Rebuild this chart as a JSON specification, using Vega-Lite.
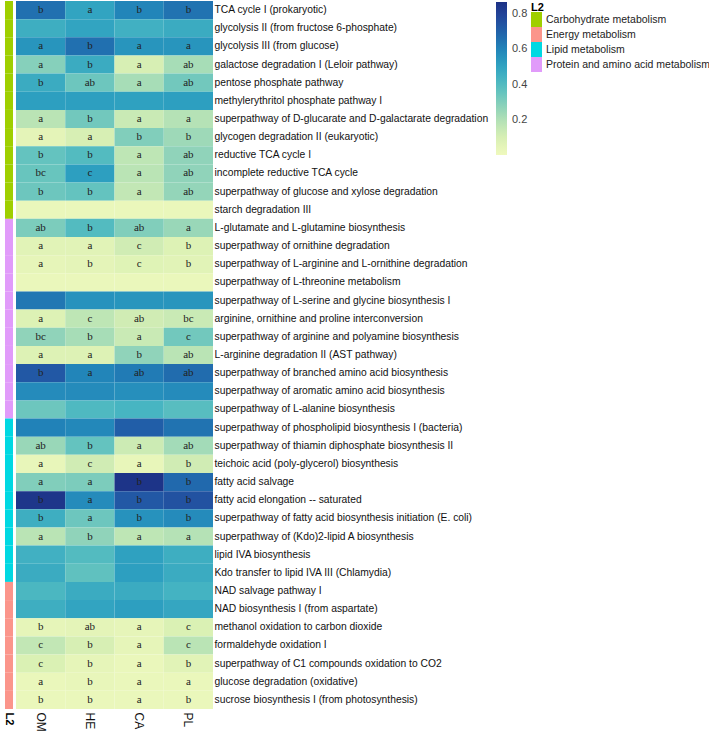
{
  "$schema": "https://vega.github.io/schema/vega-lite/v6.json",
  "padding": {"left": 3, "top": 1, "right": 0, "bottom": 0},
  "background": "white",
  "bounds": "flush",
  "spacing": 3,
  "config": {"view": {"stroke": null}, "font": "Liberation Sans"},
  "datasets": {
    "rows": [
      {"p": "TCA cycle I (prokaryotic)", "L2": "Carbohydrate metabolism"},
      {"p": "glycolysis II (from fructose 6-phosphate)", "L2": "Carbohydrate metabolism"},
      {"p": "glycolysis III (from glucose)", "L2": "Carbohydrate metabolism"},
      {"p": "galactose degradation I (Leloir pathway)", "L2": "Carbohydrate metabolism"},
      {"p": "pentose phosphate pathway", "L2": "Carbohydrate metabolism"},
      {"p": "methylerythritol phosphate pathway I", "L2": "Carbohydrate metabolism"},
      {"p": "superpathway of D-glucarate and D-galactarate degradation", "L2": "Carbohydrate metabolism"},
      {"p": "glycogen degradation II (eukaryotic)", "L2": "Carbohydrate metabolism"},
      {"p": "reductive TCA cycle I", "L2": "Carbohydrate metabolism"},
      {"p": "incomplete reductive TCA cycle", "L2": "Carbohydrate metabolism"},
      {"p": "superpathway of glucose and xylose degradation", "L2": "Carbohydrate metabolism"},
      {"p": "starch degradation III", "L2": "Carbohydrate metabolism"},
      {"p": "L-glutamate and L-glutamine biosynthesis", "L2": "Protein and amino acid metabolism"},
      {"p": "superpathway of ornithine degradation", "L2": "Protein and amino acid metabolism"},
      {"p": "superpathway of L-arginine and L-ornithine degradation", "L2": "Protein and amino acid metabolism"},
      {"p": "superpathway of L-threonine metabolism", "L2": "Protein and amino acid metabolism"},
      {"p": "superpathway of L-serine and glycine biosynthesis I", "L2": "Protein and amino acid metabolism"},
      {"p": "arginine, ornithine and proline interconversion", "L2": "Protein and amino acid metabolism"},
      {"p": "superpathway of arginine and polyamine biosynthesis", "L2": "Protein and amino acid metabolism"},
      {"p": "L-arginine degradation II (AST pathway)", "L2": "Protein and amino acid metabolism"},
      {"p": "superpathway of branched amino acid biosynthesis", "L2": "Protein and amino acid metabolism"},
      {"p": "superpathway of aromatic amino acid biosynthesis", "L2": "Protein and amino acid metabolism"},
      {"p": "superpathway of L-alanine biosynthesis", "L2": "Protein and amino acid metabolism"},
      {"p": "superpathway of phospholipid biosynthesis I (bacteria)", "L2": "Lipid metabolism"},
      {"p": "superpathway of thiamin diphosphate biosynthesis II", "L2": "Lipid metabolism"},
      {"p": "teichoic acid (poly-glycerol) biosynthesis", "L2": "Lipid metabolism"},
      {"p": "fatty acid salvage", "L2": "Lipid metabolism"},
      {"p": "fatty acid elongation -- saturated", "L2": "Lipid metabolism"},
      {"p": "superpathway of fatty acid biosynthesis initiation (E. coli)", "L2": "Lipid metabolism"},
      {"p": "superpathway of (Kdo)2-lipid A biosynthesis", "L2": "Lipid metabolism"},
      {"p": "lipid IVA biosynthesis", "L2": "Lipid metabolism"},
      {"p": "Kdo transfer to lipid IVA III (Chlamydia)", "L2": "Lipid metabolism"},
      {"p": "NAD salvage pathway I", "L2": "Energy metabolism"},
      {"p": "NAD biosynthesis I (from aspartate)", "L2": "Energy metabolism"},
      {"p": "methanol oxidation to carbon dioxide", "L2": "Energy metabolism"},
      {"p": "formaldehyde oxidation I", "L2": "Energy metabolism"},
      {"p": "superpathway of C1 compounds oxidation to CO2", "L2": "Energy metabolism"},
      {"p": "glucose degradation (oxidative)", "L2": "Energy metabolism"},
      {"p": "sucrose biosynthesis I (from photosynthesis)", "L2": "Energy metabolism"}
    ],
    "cells": [
      {"p": "TCA cycle I (prokaryotic)", "g": "OM", "v": 0.66, "t": "b"},
      {"p": "TCA cycle I (prokaryotic)", "g": "HE", "v": 0.50, "t": "a"},
      {"p": "TCA cycle I (prokaryotic)", "g": "CA", "v": 0.60, "t": "b"},
      {"p": "TCA cycle I (prokaryotic)", "g": "PL", "v": 0.65, "t": "b"},
      {"p": "glycolysis II (from fructose 6-phosphate)", "g": "OM", "v": 0.46, "t": ""},
      {"p": "glycolysis II (from fructose 6-phosphate)", "g": "HE", "v": 0.50, "t": ""},
      {"p": "glycolysis II (from fructose 6-phosphate)", "g": "CA", "v": 0.45, "t": ""},
      {"p": "glycolysis II (from fructose 6-phosphate)", "g": "PL", "v": 0.47, "t": ""},
      {"p": "glycolysis III (from glucose)", "g": "OM", "v": 0.55, "t": "a"},
      {"p": "glycolysis III (from glucose)", "g": "HE", "v": 0.66, "t": "b"},
      {"p": "glycolysis III (from glucose)", "g": "CA", "v": 0.55, "t": "a"},
      {"p": "glycolysis III (from glucose)", "g": "PL", "v": 0.55, "t": "a"},
      {"p": "galactose degradation I (Leloir pathway)", "g": "OM", "v": 0.29, "t": "a"},
      {"p": "galactose degradation I (Leloir pathway)", "g": "HE", "v": 0.47, "t": "b"},
      {"p": "galactose degradation I (Leloir pathway)", "g": "CA", "v": 0.10, "t": "a"},
      {"p": "galactose degradation I (Leloir pathway)", "g": "PL", "v": 0.22, "t": "ab"},
      {"p": "pentose phosphate pathway", "g": "OM", "v": 0.47, "t": "b"},
      {"p": "pentose phosphate pathway", "g": "HE", "v": 0.34, "t": "ab"},
      {"p": "pentose phosphate pathway", "g": "CA", "v": 0.22, "t": "a"},
      {"p": "pentose phosphate pathway", "g": "PL", "v": 0.33, "t": "ab"},
      {"p": "methylerythritol phosphate pathway I", "g": "OM", "v": 0.52, "t": ""},
      {"p": "methylerythritol phosphate pathway I", "g": "HE", "v": 0.52, "t": ""},
      {"p": "methylerythritol phosphate pathway I", "g": "CA", "v": 0.51, "t": ""},
      {"p": "methylerythritol phosphate pathway I", "g": "PL", "v": 0.52, "t": ""},
      {"p": "superpathway of D-glucarate and D-galactarate degradation", "g": "OM", "v": 0.18, "t": "a"},
      {"p": "superpathway of D-glucarate and D-galactarate degradation", "g": "HE", "v": 0.33, "t": "b"},
      {"p": "superpathway of D-glucarate and D-galactarate degradation", "g": "CA", "v": 0.14, "t": "a"},
      {"p": "superpathway of D-glucarate and D-galactarate degradation", "g": "PL", "v": 0.19, "t": "a"},
      {"p": "glycogen degradation II (eukaryotic)", "g": "OM", "v": 0.05, "t": "a"},
      {"p": "glycogen degradation II (eukaryotic)", "g": "HE", "v": 0.10, "t": "a"},
      {"p": "glycogen degradation II (eukaryotic)", "g": "CA", "v": 0.30, "t": "b"},
      {"p": "glycogen degradation II (eukaryotic)", "g": "PL", "v": 0.24, "t": "b"},
      {"p": "reductive TCA cycle I", "g": "OM", "v": 0.36, "t": "b"},
      {"p": "reductive TCA cycle I", "g": "HE", "v": 0.40, "t": "b"},
      {"p": "reductive TCA cycle I", "g": "CA", "v": 0.17, "t": "a"},
      {"p": "reductive TCA cycle I", "g": "PL", "v": 0.27, "t": "ab"},
      {"p": "incomplete reductive TCA cycle", "g": "OM", "v": 0.35, "t": "bc"},
      {"p": "incomplete reductive TCA cycle", "g": "HE", "v": 0.52, "t": "c"},
      {"p": "incomplete reductive TCA cycle", "g": "CA", "v": 0.18, "t": "a"},
      {"p": "incomplete reductive TCA cycle", "g": "PL", "v": 0.27, "t": "ab"},
      {"p": "superpathway of glucose and xylose degradation", "g": "OM", "v": 0.34, "t": "b"},
      {"p": "superpathway of glucose and xylose degradation", "g": "HE", "v": 0.36, "t": "b"},
      {"p": "superpathway of glucose and xylose degradation", "g": "CA", "v": 0.16, "t": "a"},
      {"p": "superpathway of glucose and xylose degradation", "g": "PL", "v": 0.26, "t": "ab"},
      {"p": "starch degradation III", "g": "OM", "v": 0.02, "t": ""},
      {"p": "starch degradation III", "g": "HE", "v": 0.02, "t": ""},
      {"p": "starch degradation III", "g": "CA", "v": 0.02, "t": ""},
      {"p": "starch degradation III", "g": "PL", "v": 0.02, "t": ""},
      {"p": "L-glutamate and L-glutamine biosynthesis", "g": "OM", "v": 0.31, "t": "ab"},
      {"p": "L-glutamate and L-glutamine biosynthesis", "g": "HE", "v": 0.40, "t": "b"},
      {"p": "L-glutamate and L-glutamine biosynthesis", "g": "CA", "v": 0.30, "t": "ab"},
      {"p": "L-glutamate and L-glutamine biosynthesis", "g": "PL", "v": 0.25, "t": "a"},
      {"p": "superpathway of ornithine degradation", "g": "OM", "v": 0.06, "t": "a"},
      {"p": "superpathway of ornithine degradation", "g": "HE", "v": 0.06, "t": "a"},
      {"p": "superpathway of ornithine degradation", "g": "CA", "v": 0.12, "t": "c"},
      {"p": "superpathway of ornithine degradation", "g": "PL", "v": 0.08, "t": "b"},
      {"p": "superpathway of L-arginine and L-ornithine degradation", "g": "OM", "v": 0.04, "t": "a"},
      {"p": "superpathway of L-arginine and L-ornithine degradation", "g": "HE", "v": 0.05, "t": "b"},
      {"p": "superpathway of L-arginine and L-ornithine degradation", "g": "CA", "v": 0.07, "t": "c"},
      {"p": "superpathway of L-arginine and L-ornithine degradation", "g": "PL", "v": 0.06, "t": "b"},
      {"p": "superpathway of L-threonine metabolism", "g": "OM", "v": 0.02, "t": ""},
      {"p": "superpathway of L-threonine metabolism", "g": "HE", "v": 0.02, "t": ""},
      {"p": "superpathway of L-threonine metabolism", "g": "CA", "v": 0.02, "t": ""},
      {"p": "superpathway of L-threonine metabolism", "g": "PL", "v": 0.02, "t": ""},
      {"p": "superpathway of L-serine and glycine biosynthesis I", "g": "OM", "v": 0.64, "t": ""},
      {"p": "superpathway of L-serine and glycine biosynthesis I", "g": "HE", "v": 0.56, "t": ""},
      {"p": "superpathway of L-serine and glycine biosynthesis I", "g": "CA", "v": 0.55, "t": ""},
      {"p": "superpathway of L-serine and glycine biosynthesis I", "g": "PL", "v": 0.55, "t": ""},
      {"p": "arginine, ornithine and proline interconversion", "g": "OM", "v": 0.08, "t": "a"},
      {"p": "arginine, ornithine and proline interconversion", "g": "HE", "v": 0.17, "t": "c"},
      {"p": "arginine, ornithine and proline interconversion", "g": "CA", "v": 0.12, "t": "ab"},
      {"p": "arginine, ornithine and proline interconversion", "g": "PL", "v": 0.14, "t": "bc"},
      {"p": "superpathway of arginine and polyamine biosynthesis", "g": "OM", "v": 0.27, "t": "bc"},
      {"p": "superpathway of arginine and polyamine biosynthesis", "g": "HE", "v": 0.22, "t": "b"},
      {"p": "superpathway of arginine and polyamine biosynthesis", "g": "CA", "v": 0.14, "t": "a"},
      {"p": "superpathway of arginine and polyamine biosynthesis", "g": "PL", "v": 0.33, "t": "c"},
      {"p": "L-arginine degradation II (AST pathway)", "g": "OM", "v": 0.08, "t": "a"},
      {"p": "L-arginine degradation II (AST pathway)", "g": "HE", "v": 0.08, "t": "a"},
      {"p": "L-arginine degradation II (AST pathway)", "g": "CA", "v": 0.27, "t": "b"},
      {"p": "L-arginine degradation II (AST pathway)", "g": "PL", "v": 0.18, "t": "ab"},
      {"p": "superpathway of branched amino acid biosynthesis", "g": "OM", "v": 0.73, "t": "b"},
      {"p": "superpathway of branched amino acid biosynthesis", "g": "HE", "v": 0.60, "t": "a"},
      {"p": "superpathway of branched amino acid biosynthesis", "g": "CA", "v": 0.63, "t": "ab"},
      {"p": "superpathway of branched amino acid biosynthesis", "g": "PL", "v": 0.67, "t": "ab"},
      {"p": "superpathway of aromatic amino acid biosynthesis", "g": "OM", "v": 0.58, "t": ""},
      {"p": "superpathway of aromatic amino acid biosynthesis", "g": "HE", "v": 0.58, "t": ""},
      {"p": "superpathway of aromatic amino acid biosynthesis", "g": "CA", "v": 0.57, "t": ""},
      {"p": "superpathway of aromatic amino acid biosynthesis", "g": "PL", "v": 0.58, "t": ""},
      {"p": "superpathway of L-alanine biosynthesis", "g": "OM", "v": 0.34, "t": ""},
      {"p": "superpathway of L-alanine biosynthesis", "g": "HE", "v": 0.41, "t": ""},
      {"p": "superpathway of L-alanine biosynthesis", "g": "CA", "v": 0.43, "t": ""},
      {"p": "superpathway of L-alanine biosynthesis", "g": "PL", "v": 0.39, "t": ""},
      {"p": "superpathway of phospholipid biosynthesis I (bacteria)", "g": "OM", "v": 0.61, "t": ""},
      {"p": "superpathway of phospholipid biosynthesis I (bacteria)", "g": "HE", "v": 0.59, "t": ""},
      {"p": "superpathway of phospholipid biosynthesis I (bacteria)", "g": "CA", "v": 0.71, "t": ""},
      {"p": "superpathway of phospholipid biosynthesis I (bacteria)", "g": "PL", "v": 0.65, "t": ""},
      {"p": "superpathway of thiamin diphosphate biosynthesis II", "g": "OM", "v": 0.25, "t": "ab"},
      {"p": "superpathway of thiamin diphosphate biosynthesis II", "g": "HE", "v": 0.36, "t": "b"},
      {"p": "superpathway of thiamin diphosphate biosynthesis II", "g": "CA", "v": 0.13, "t": "a"},
      {"p": "superpathway of thiamin diphosphate biosynthesis II", "g": "PL", "v": 0.23, "t": "ab"},
      {"p": "teichoic acid (poly-glycerol) biosynthesis", "g": "OM", "v": 0.03, "t": "a"},
      {"p": "teichoic acid (poly-glycerol) biosynthesis", "g": "HE", "v": 0.12, "t": "c"},
      {"p": "teichoic acid (poly-glycerol) biosynthesis", "g": "CA", "v": 0.03, "t": "a"},
      {"p": "teichoic acid (poly-glycerol) biosynthesis", "g": "PL", "v": 0.12, "t": "b"},
      {"p": "fatty acid salvage", "g": "OM", "v": 0.30, "t": "a"},
      {"p": "fatty acid salvage", "g": "HE", "v": 0.31, "t": "a"},
      {"p": "fatty acid salvage", "g": "CA", "v": 0.86, "t": "b"},
      {"p": "fatty acid salvage", "g": "PL", "v": 0.68, "t": "b"},
      {"p": "fatty acid elongation -- saturated", "g": "OM", "v": 0.85, "t": "b"},
      {"p": "fatty acid elongation -- saturated", "g": "HE", "v": 0.58, "t": "a"},
      {"p": "fatty acid elongation -- saturated", "g": "CA", "v": 0.73, "t": "b"},
      {"p": "fatty acid elongation -- saturated", "g": "PL", "v": 0.75, "t": "b"},
      {"p": "superpathway of fatty acid biosynthesis initiation (E. coli)", "g": "OM", "v": 0.46, "t": "b"},
      {"p": "superpathway of fatty acid biosynthesis initiation (E. coli)", "g": "HE", "v": 0.34, "t": "a"},
      {"p": "superpathway of fatty acid biosynthesis initiation (E. coli)", "g": "CA", "v": 0.56, "t": "b"},
      {"p": "superpathway of fatty acid biosynthesis initiation (E. coli)", "g": "PL", "v": 0.58, "t": "b"},
      {"p": "superpathway of (Kdo)2-lipid A biosynthesis", "g": "OM", "v": 0.18, "t": "a"},
      {"p": "superpathway of (Kdo)2-lipid A biosynthesis", "g": "HE", "v": 0.27, "t": "b"},
      {"p": "superpathway of (Kdo)2-lipid A biosynthesis", "g": "CA", "v": 0.17, "t": "a"},
      {"p": "superpathway of (Kdo)2-lipid A biosynthesis", "g": "PL", "v": 0.19, "t": "a"},
      {"p": "lipid IVA biosynthesis", "g": "OM", "v": 0.45, "t": ""},
      {"p": "lipid IVA biosynthesis", "g": "HE", "v": 0.40, "t": ""},
      {"p": "lipid IVA biosynthesis", "g": "CA", "v": 0.51, "t": ""},
      {"p": "lipid IVA biosynthesis", "g": "PL", "v": 0.46, "t": ""},
      {"p": "Kdo transfer to lipid IVA III (Chlamydia)", "g": "OM", "v": 0.47, "t": ""},
      {"p": "Kdo transfer to lipid IVA III (Chlamydia)", "g": "HE", "v": 0.37, "t": ""},
      {"p": "Kdo transfer to lipid IVA III (Chlamydia)", "g": "CA", "v": 0.52, "t": ""},
      {"p": "Kdo transfer to lipid IVA III (Chlamydia)", "g": "PL", "v": 0.47, "t": ""},
      {"p": "NAD salvage pathway I", "g": "OM", "v": 0.42, "t": ""},
      {"p": "NAD salvage pathway I", "g": "HE", "v": 0.47, "t": ""},
      {"p": "NAD salvage pathway I", "g": "CA", "v": 0.47, "t": ""},
      {"p": "NAD salvage pathway I", "g": "PL", "v": 0.44, "t": ""},
      {"p": "NAD biosynthesis I (from aspartate)", "g": "OM", "v": 0.46, "t": ""},
      {"p": "NAD biosynthesis I (from aspartate)", "g": "HE", "v": 0.50, "t": ""},
      {"p": "NAD biosynthesis I (from aspartate)", "g": "CA", "v": 0.52, "t": ""},
      {"p": "NAD biosynthesis I (from aspartate)", "g": "PL", "v": 0.49, "t": ""},
      {"p": "methanol oxidation to carbon dioxide", "g": "OM", "v": 0.04, "t": "b"},
      {"p": "methanol oxidation to carbon dioxide", "g": "HE", "v": 0.05, "t": "ab"},
      {"p": "methanol oxidation to carbon dioxide", "g": "CA", "v": 0.04, "t": "a"},
      {"p": "methanol oxidation to carbon dioxide", "g": "PL", "v": 0.09, "t": "c"},
      {"p": "formaldehyde oxidation I", "g": "OM", "v": 0.16, "t": "c"},
      {"p": "formaldehyde oxidation I", "g": "HE", "v": 0.10, "t": "b"},
      {"p": "formaldehyde oxidation I", "g": "CA", "v": 0.04, "t": "a"},
      {"p": "formaldehyde oxidation I", "g": "PL", "v": 0.18, "t": "c"},
      {"p": "superpathway of C1 compounds oxidation to CO2", "g": "OM", "v": 0.09, "t": "c"},
      {"p": "superpathway of C1 compounds oxidation to CO2", "g": "HE", "v": 0.04, "t": "b"},
      {"p": "superpathway of C1 compounds oxidation to CO2", "g": "CA", "v": 0.02, "t": "a"},
      {"p": "superpathway of C1 compounds oxidation to CO2", "g": "PL", "v": 0.06, "t": "b"},
      {"p": "glucose degradation (oxidative)", "g": "OM", "v": 0.02, "t": "a"},
      {"p": "glucose degradation (oxidative)", "g": "HE", "v": 0.03, "t": "b"},
      {"p": "glucose degradation (oxidative)", "g": "CA", "v": 0.02, "t": "a"},
      {"p": "glucose degradation (oxidative)", "g": "PL", "v": 0.02, "t": "a"},
      {"p": "sucrose biosynthesis I (from photosynthesis)", "g": "OM", "v": 0.02, "t": "b"},
      {"p": "sucrose biosynthesis I (from photosynthesis)", "g": "HE", "v": 0.02, "t": "b"},
      {"p": "sucrose biosynthesis I (from photosynthesis)", "g": "CA", "v": 0.02, "t": "a"},
      {"p": "sucrose biosynthesis I (from photosynthesis)", "g": "PL", "v": 0.02, "t": "b"}
    ]
  },
  "hconcat": [
    {
      "width": 8,
      "height": 708,
      "data": {"name": "rows"},
      "mark": {"type": "rect"},
      "encoding": {
        "x": {"datum": "L2", "type": "nominal",
          "axis": {"title": null, "ticks": false, "domain": false, "labelAngle": 90, "labelFontWeight": "bold", "labelFontSize": 11, "labelColor": "#000", "labelPadding": 3}},
        "y": {"field": "p", "type": "nominal", "sort": null, "axis": null},
        "fill": {"field": "L2", "type": "nominal",
          "scale": {"domain": ["Carbohydrate metabolism", "Energy metabolism", "Lipid metabolism", "Protein and amino acid metabolism"],
                    "range": ["#9fcf00", "#fb958b", "#00d8e2", "#e19bfa"]},
          "legend": {"orient": "none", "legendX": 526, "legendY": 1, "title": "L2",
            "titleFontSize": 11, "titleFontWeight": "bold", "titleColor": "#000", "titlePadding": 1,
            "symbolType": "M-1,-1.36H1V1.36H-1Z", "symbolSize": 121, "symbolStrokeWidth": 0, "symbolOpacity": 1,
            "rowPadding": 0, "labelFontSize": 10.5, "labelColor": "#222", "labelOffset": 4, "labelLimit": 300}}
      }
    },
    {
      "width": 197,
      "height": 708,
      "data": {"name": "cells"},
      "encoding": {
        "x": {"field": "g", "type": "nominal", "sort": ["OM", "HE", "CA", "PL"],
          "axis": {"title": null, "ticks": false, "domain": false, "labelAngle": 90, "labelFontWeight": "normal", "labelFontSize": 12, "labelColor": "#111", "labelPadding": 3}},
        "y": {"field": "p", "type": "nominal", "sort": null,
          "axis": {"orient": "right", "title": null, "ticks": false, "domain": false, "labelPadding": 1, "labelFontSize": 10.3, "labelColor": "#111", "labelLimit": 400}}
      },
      "layer": [
        {
          "mark": {"type": "rect"},
          "encoding": {
            "color": {"field": "v", "type": "quantitative",
              "scale": {"scheme": "yellowgreenblue", "domain": [0, 0.87]},
              "legend": {"orient": "none", "legendX": 491, "legendY": 1, "title": null,
                "gradientLength": 153, "gradientThickness": 11, "gradientStrokeWidth": 0,
                "values": [0.2, 0.4, 0.6, 0.8], "labelFontSize": 11, "labelColor": "#444", "labelOffset": 5, "tickCount": 4}}
          }
        },
        {
          "mark": {"type": "text", "font": "Liberation Serif", "fontSize": 11, "color": "#222"},
          "encoding": {"text": {"field": "t", "type": "nominal"}}
        }
      ]
    }
  ]
}
